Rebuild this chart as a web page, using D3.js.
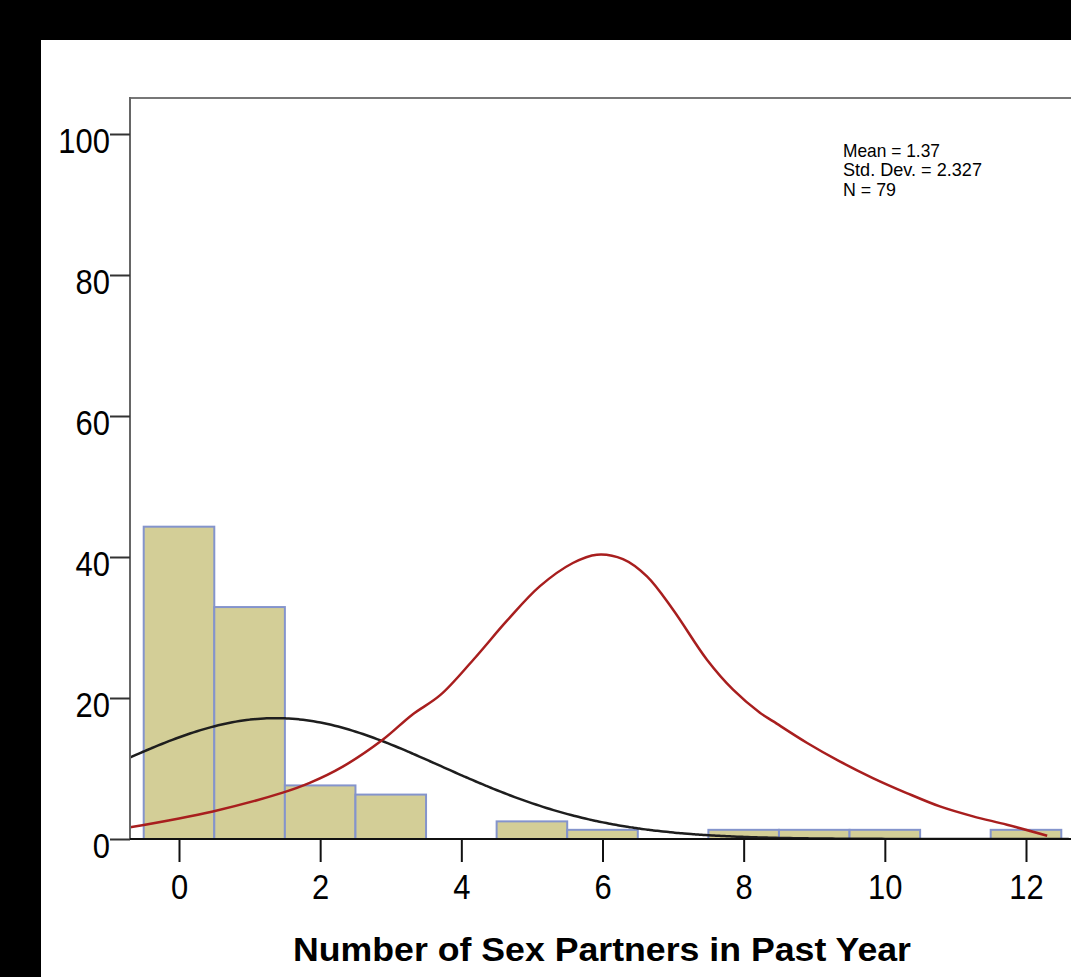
<!DOCTYPE html>
<html><head><meta charset="utf-8">
<script src="https://cdn.jsdelivr.net/npm/d3@7"></script>
<style>html,body{margin:0;padding:0;background:#000;}svg{display:block;}</style>
</head><body>
<svg id="c" width="1071" height="977"></svg>
<script>
// ---- data ----
const binCenters = [0,1,2,3,4,5,6,7,8,9,10,11,12];
const binPercents = [44.3,32.9,7.6,6.3,0,2.5,1.3,0,1.3,1.3,1.3,0,1.3];
const xTicks = [0,2,4,6,8,10,12];
const yTicks = [0,20,40,60,80,100];
const statLabels = ["Mean = 1.37","Std. Dev. = 2.327","N = 79"];
const statMean = 1.37, statSD = 2.327;
const redX = [-0.694,0.48,1.47,1.86,2.32,2.89,3.30,3.70,4.17,4.65,5.11,5.58,5.92,6.29,6.63,7.00,7.48,7.85,8.23,8.42,8.90,9.36,9.83,10.31,10.78,11.25,11.73,12.30];
const redY = [1.65,3.91,6.57,7.99,10.26,14.11,17.6,20.4,25.43,31.0,35.83,39.15,40.33,39.7,37.25,32.52,25.43,21.18,17.91,16.68,13.62,11.01,8.65,6.52,4.62,3.21,2.03,0.47];
const xTitle = "Number of Sex Partners in Past Year";

const svg = d3.select("#c");
svg.append("rect").attr("x",41).attr("y",40).attr("width",1030).attr("height",937).attr("fill","#fff");

const x = d3.scaleLinear().domain([0,12]).range([179,1026]);
const y = d3.scaleLinear().domain([0,100]).range([839,134]);
const plotL = 130, plotT = 98, plotR = 1071;

// bars
svg.append("g").selectAll("rect").data(binCenters.map((c,i)=>({c,v:binPercents[i]})).filter(d=>d.v>0))
  .join("rect")
  .attr("x",d=>x(d.c-0.5)).attr("width",d=>x(d.c+0.5)-x(d.c-0.5))
  .attr("y",d=>y(d.v)).attr("height",d=>y(0)-y(d.v))
  .attr("fill","#d3ce97").attr("stroke","#8494cc").attr("stroke-width",2);

// clip
svg.append("clipPath").attr("id","pc").append("rect").attr("x",plotL).attr("y",plotT).attr("width",plotR-plotL).attr("height",y(0)-plotT);

// normal curve
const xmin = x.invert(plotL), xmax = x.invert(plotR);
const normPts = d3.range(xmin, xmax+0.01, 0.05).map(v=>[v, 100/(statSD*Math.sqrt(2*Math.PI))*Math.exp(-0.5*Math.pow((v-statMean)/statSD,2))]);
const line = d3.line().x(d=>x(d[0])).y(d=>y(d[1])).curve(d3.curveMonotoneX);
svg.append("path").attr("clip-path","url(#pc)").attr("d",line(normPts)).attr("fill","none").attr("stroke","#1e1e1e").attr("stroke-width",2.5);

// red curve
const line2 = d3.line().x(d=>x(d[0])).y(d=>y(d[1])).curve(d3.curveCatmullRom.alpha(0.5));
svg.append("path").attr("clip-path","url(#pc)").attr("d",line2(redX.map((v,i)=>[v,redY[i]]))).attr("fill","none").attr("stroke","#a81e1e").attr("stroke-width",2.5);

// frame
svg.append("line").attr("x1",plotL).attr("x2",plotR).attr("y1",plotT).attr("y2",plotT).attr("stroke","#777").attr("stroke-width",2);
svg.append("line").attr("x1",plotL).attr("x2",plotL).attr("y1",plotT-1).attr("y2",y(0)).attr("stroke","#666").attr("stroke-width",2);
svg.append("line").attr("x1",plotL).attr("x2",plotR).attr("y1",y(0)).attr("y2",y(0)).attr("stroke","#111").attr("stroke-width",2);

// y axis
const yAx = d3.axisLeft(y).tickValues(yTicks).tickSize(20).tickPadding(0).tickFormat(d3.format("d"));
const gy = svg.append("g").attr("transform",`translate(${plotL},0)`).call(yAx);
gy.select(".domain").remove();
gy.selectAll(".tick line").attr("stroke","#333").attr("stroke-width",2);
gy.selectAll(".tick text").attr("font-family","Liberation Sans, Arial, sans-serif").attr("font-size",36).attr("fill","#000")
  .attr("dy",null).attr("x",null)
  .attr("transform","translate(-20,18) scale(0.86,1)");

// x axis
const xAx = d3.axisBottom(x).tickValues(xTicks).tickSize(23).tickPadding(0).tickFormat(d3.format("d"));
const gx = svg.append("g").attr("transform",`translate(0,${y(0)})`).call(xAx);
gx.select(".domain").remove();
gx.selectAll(".tick line").attr("stroke","#111").attr("stroke-width",2);
gx.selectAll(".tick text").attr("font-family","Liberation Sans, Arial, sans-serif").attr("font-size",36).attr("fill","#000")
  .attr("dy",null).attr("y",null)
  .attr("transform","translate(0,60) scale(0.86,1)");

// x title
svg.append("text").attr("x",602).attr("y",961).attr("text-anchor","middle")
  .attr("font-family","Liberation Sans, Arial, sans-serif").attr("font-weight","bold").attr("font-size",34)
  .attr("textLength",618).attr("lengthAdjust","spacingAndGlyphs").text(xTitle);

// stats
const statW = [97,139,53];
svg.append("g").selectAll("text").data(statLabels).join("text")
  .attr("x",843).attr("y",(d,i)=>156.5+i*19.5)
  .attr("font-family","Liberation Sans, Arial, sans-serif").attr("font-size",19)
  .attr("textLength",(d,i)=>statW[i]).attr("lengthAdjust","spacingAndGlyphs").text(d=>d);
</script>
</body></html>
